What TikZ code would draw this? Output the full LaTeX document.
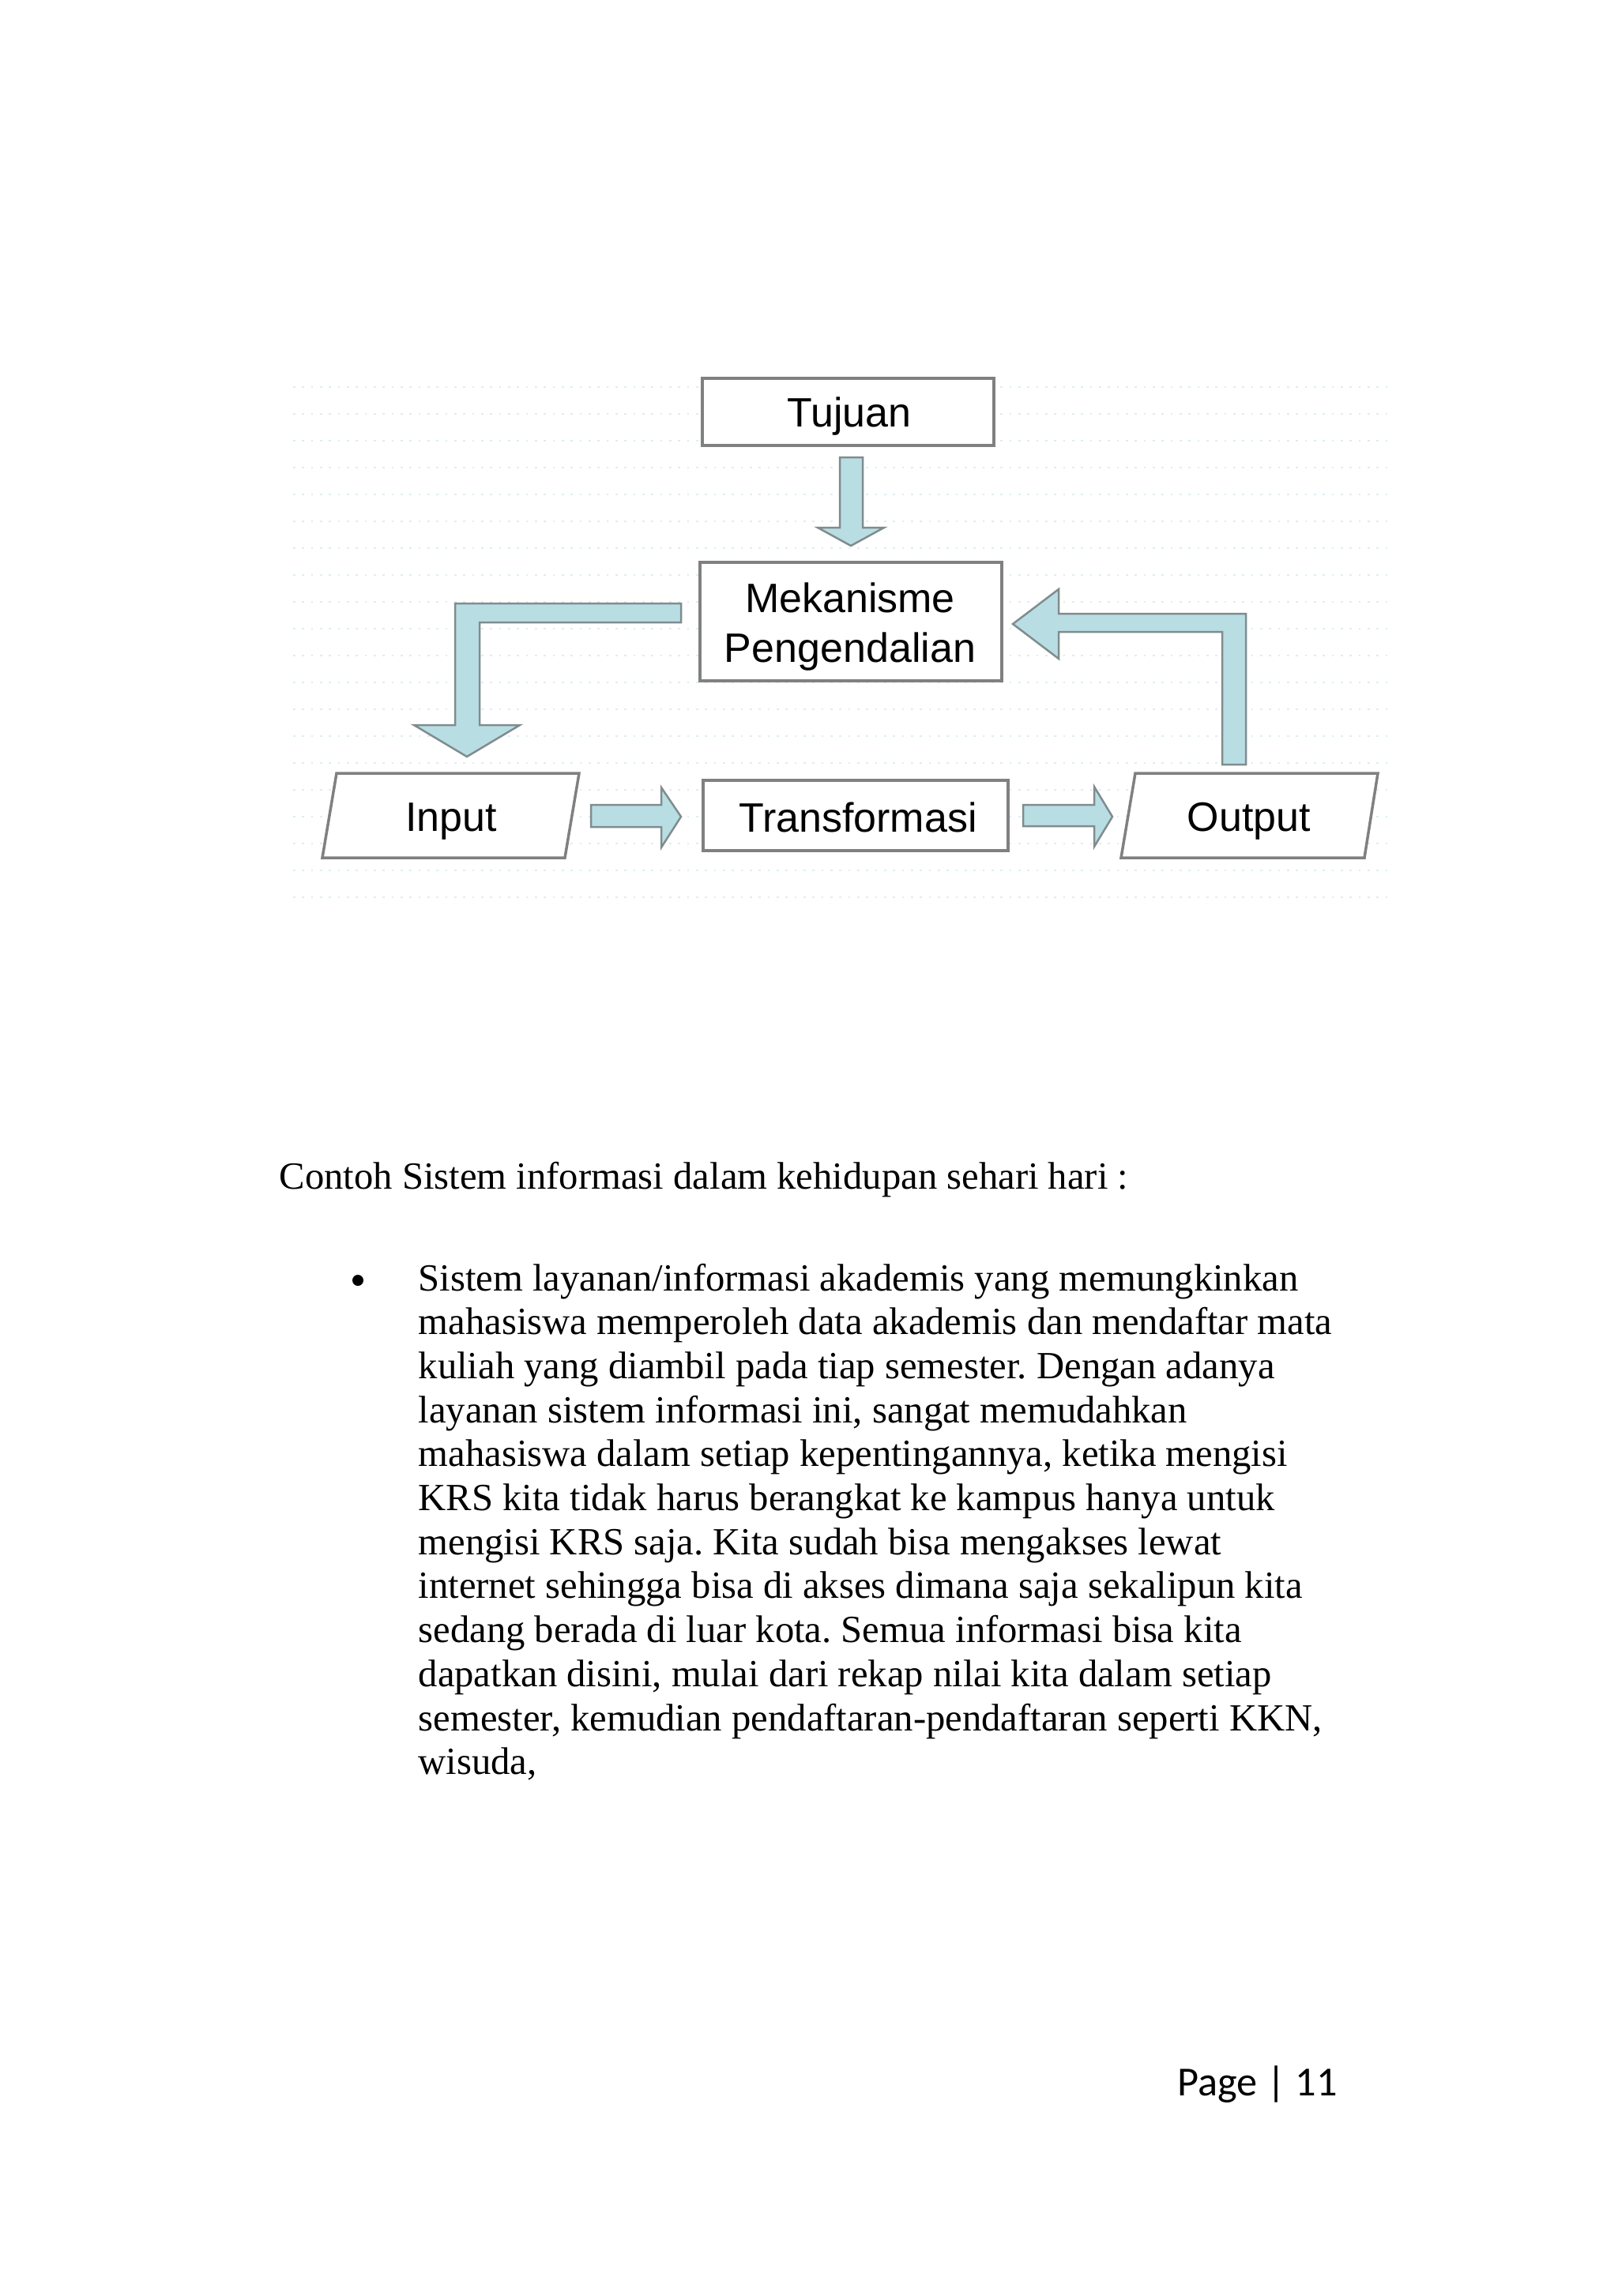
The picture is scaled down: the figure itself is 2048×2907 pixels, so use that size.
\documentclass[tikz,border=0pt]{standalone}
\usepackage{fontspec}
\setmainfont{Liberation Serif}
\newfontfamily\diagfont{Liberation Sans}
\newfontfamily\pagefont{Carlito}
\definecolor{boxgray}{RGB}{128,128,128}
\definecolor{arrfill}{RGB}{184,222,228}
\definecolor{arrline}{RGB}{128,140,142}
\definecolor{dotc}{RGB}{220,238,243}
\def\pxu{0.3pt}
\frenchspacing
\begin{document}
\begin{tikzpicture}[x=0.3pt,y=-0.3pt,
  box/.style={draw=boxgray, line width=1.05pt, fill=white, inner sep=0pt},
  lbl/.style={font=\diagfont\fontsize{15.6}{18}\selectfont, text=black, inner sep=0pt, anchor=base},
  blockarrow/.style={fill=arrfill, draw=arrline, line width=0.75pt, line join=miter},
  bodytxt/.style={font=\fontsize{14.6}{16.7}\selectfont, inner sep=0pt, anchor=base west},
]
\useasboundingbox[fill=white] (0,0) rectangle (2048,2907);
% faint dotted background
\foreach \yy in {490,524,...,1150}
  \draw[dotc, line width=0.8pt, dash pattern=on 0.8pt off 2.6pt] (371,\yy) -- (1762,\yy);
% boxes
\node[box, minimum width=369*\pxu, minimum height=85*\pxu] (tuj) at (1073.5,521.5) {};
\node[box, minimum width=382*\pxu, minimum height=150*\pxu] (mek) at (1077,787) {};
\node[box, minimum width=386*\pxu, minimum height=89*\pxu] (trans) at (1083,1032.5) {};
\draw[box] (426,979) -- (733,979) -- (715,1086) -- (408,1086) -- cycle;
\node[inner sep=0pt, minimum width=300*\pxu, minimum height=107*\pxu] (inp) at (570.5,1032.5) {};
\draw[box] (1437,979) -- (1744,979) -- (1727,1086) -- (1419,1086) -- cycle;
\node[inner sep=0pt, minimum width=300*\pxu, minimum height=107*\pxu] (out) at (1582,1032.5) {};
% labels
\node[lbl] (ttuj) at (1075,540) {Tujuan};
\node[lbl] (tmek1) at (1076,775) {Mekanisme};
\node[lbl] (tmek2) at (1076,838) {Pengendalian};
\node[lbl] (tinp) at (571,1052) {Input};
\node[lbl] (ttrans) at (1086,1053) {Transformasi};
\node[lbl] (tout) at (1581,1052) {Output};
% block arrows
\draw[blockarrow] (1063,579) -- (1092,579) -- (1092,668) -- (1119,668) -- (1077,691) -- (1035,668) -- (1063,668) -- cycle;
\draw[blockarrow] (862,764) -- (576,764) -- (576,918) -- (524,918) -- (591,958) -- (658,918) -- (607,918) -- (607,788) -- (862,788) -- cycle;
\draw[blockarrow] (1547,968) -- (1577,968) -- (1577,777) -- (1340,777) -- (1340,746) -- (1282,790) -- (1340,834) -- (1340,800) -- (1547,800) -- cycle;
\draw[blockarrow] (748,1019) -- (837,1019) -- (837,997) -- (862,1034) -- (837,1073) -- (837,1047) -- (748,1047) -- cycle;
\draw[blockarrow] (1295,1019) -- (1385,1019) -- (1385,996) -- (1408,1034) -- (1385,1072) -- (1385,1046) -- (1295,1046) -- cycle;
% text
\node[bodytxt] (head) at (353,1505) {Contoh Sistem informasi dalam kehidupan sehari hari :};
\node[circle, fill=black, inner sep=0pt, minimum size=14*\pxu] (bul) at (453,1621) {};
\foreach \t [count=\i from 0] in {
  {Sistem layanan/informasi akademis yang memungkinkan},
  {mahasiswa memperoleh data akademis dan mendaftar mata},
  {kuliah yang diambil pada tiap semester. Dengan adanya},
  {layanan sistem informasi ini, sangat memudahkan},
  {mahasiswa dalam setiap kepentingannya, ketika mengisi},
  {KRS kita tidak harus berangkat ke kampus hanya untuk},
  {mengisi KRS saja. Kita sudah bisa mengakses lewat},
  {internet sehingga bisa di akses dimana saja sekalipun kita},
  {sedang berada di luar kota. Semua informasi bisa kita},
  {dapatkan disini, mulai dari rekap nilai kita dalam setiap},
  {semester, kemudian pendaftaran-pendaftaran seperti KKN,},
  {wisuda,}}
  \node[bodytxt] (l\i) at (529,{1634+55.7*\i}) {\t};
\node[font=\pagefont\fontsize{15.7}{18}\selectfont, inner sep=0pt, anchor=base west] (pg) at (1490,2653) {Page | 11};
\end{tikzpicture}
\end{document}
